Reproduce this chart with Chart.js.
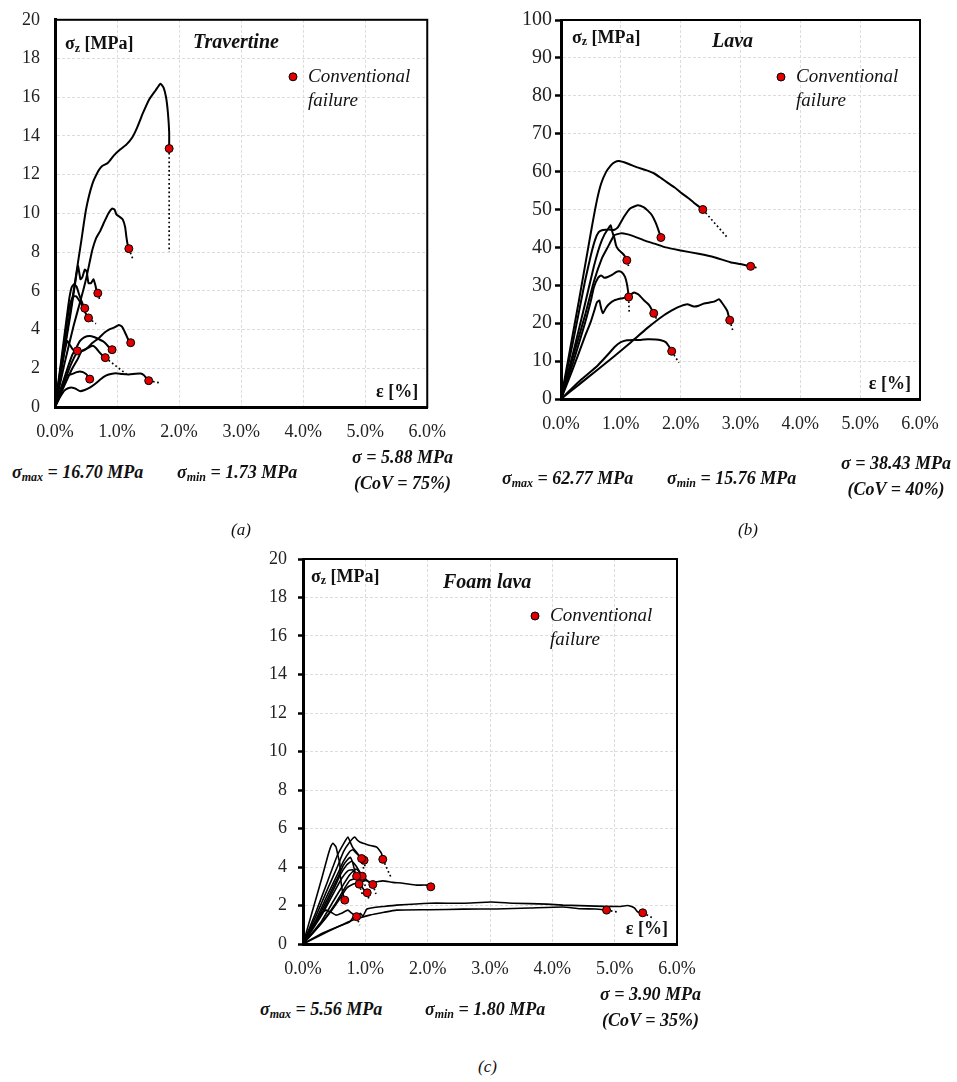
<!DOCTYPE html>
<html>
<head>
<meta charset="utf-8">
<script src="https://cdn.jsdelivr.net/npm/chart.js@4.4.0/dist/chart.umd.min.js"></script>
<style>
  body { margin: 0; background: #fff; width: 957px; height: 1082px; position: relative; overflow: hidden;
         font-family: "Liberation Serif", "Times New Roman", serif; color: #111; }
  canvas { position: absolute; }
  .stat { position: absolute; font-weight: bold; font-style: italic; font-size: 18px; line-height: 22px; white-space: nowrap; }
  .stat sub { font-size: 12px; vertical-align: -3px; line-height: 0; }
  .stack { text-align: center; line-height: 26px; }
  .cap { position: absolute; font-style: italic; font-size: 17px; line-height: 20px; }
</style>
</head>
<body>
<canvas id="travertine" width="460" height="450" style="left:0;top:0"></canvas>
<canvas id="lava" width="477" height="450" style="left:480px;top:0"></canvas>
<canvas id="foam" width="480" height="470" style="left:230px;top:520px"></canvas>

<div class="stat" style="left:12px;top:461px">σ<sub>max</sub> = 16.70 MPa</div>
<div class="stat" style="left:177px;top:461px">σ<sub>min</sub> = 1.73 MPa</div>
<div class="stat stack" style="left:340px;top:444px;width:125px">σ = 5.88 MPa<br>(CoV = 75%)</div>
<div class="cap" style="left:231px;top:520px">(a)</div>

<div class="stat" style="left:502px;top:467px">σ<sub>max</sub> = 62.77 MPa</div>
<div class="stat" style="left:667px;top:467px">σ<sub>min</sub> = 15.76 MPa</div>
<div class="stat stack" style="left:835px;top:450px;width:122px">σ = 38.43 MPa<br>(CoV = 40%)</div>
<div class="cap" style="left:738px;top:520px">(b)</div>

<div class="stat" style="left:260px;top:998px">σ<sub>max</sub> = 5.56 MPa</div>
<div class="stat" style="left:425px;top:998px">σ<sub>min</sub> = 1.80 MPa</div>
<div class="stat stack" style="left:588px;top:981px;width:125px">σ = 3.90 MPa<br>(CoV = 35%)</div>
<div class="cap" style="left:478px;top:1057px">(c)</div>

<script>
// strain axis range [%]
const STRAIN_MIN = 0;
const STRAIN_MAX = 6;

// Travertine: [strain %, stress MPa]; the last point of each curve is the conventional failure
const travertineCurves = [
  [[0,0],[0.15,3.0],[0.3,6.0],[0.42,8.5],[0.5,10.2],[0.6,11.5],[0.7,12.2],[0.76,12.45],[0.85,12.6],[0.95,13.0],[1.05,13.3],[1.15,13.55],[1.25,13.95],[1.32,14.4],[1.42,15.2],[1.52,15.9],[1.62,16.35],[1.70,16.7],[1.75,16.5],[1.79,16.0],[1.82,15.2],[1.84,14.2],[1.84,13.35]],
  [[0,0],[0.15,2.2],[0.3,4.2],[0.42,5.6],[0.5,6.6],[0.56,7.5],[0.6,8.1],[0.66,8.7],[0.73,9.1],[0.8,9.6],[0.86,10.0],[0.92,10.25],[0.96,10.2],[0.99,9.95],[1.03,9.85],[1.09,9.7],[1.13,9.3],[1.15,8.8],[1.17,8.4],[1.19,8.18]],
  [[0,0],[0.12,2.3],[0.25,4.8],[0.33,6.5],[0.37,7.3],[0.41,6.6],[0.44,6.7],[0.48,7.1],[0.51,7.0],[0.54,6.4],[0.58,6.4],[0.62,6.6],[0.65,6.3],[0.67,6.0],[0.69,5.88]],
  [[0,0],[0.1,2.4],[0.18,4.4],[0.23,5.6],[0.27,6.2],[0.31,6.35],[0.35,6.2],[0.39,5.8],[0.43,5.45],[0.46,5.2],[0.48,5.1]],
  [[0,0],[0.1,2.2],[0.18,4.1],[0.24,5.3],[0.29,5.7],[0.34,5.72],[0.4,5.45],[0.45,5.15],[0.5,4.8],[0.54,4.6]],
  [[0,0],[0.12,1.0],[0.22,1.9],[0.3,2.5],[0.37,2.85],[0.45,2.9],[0.52,3.05],[0.6,3.3],[0.71,3.57],[0.8,3.85],[0.87,4.0],[0.95,4.1],[1.03,4.23],[1.08,4.15],[1.14,3.77],[1.19,3.42],[1.22,3.32]],
  [[0,0],[0.15,1.5],[0.28,2.7],[0.35,3.1],[0.4,3.4],[0.47,3.6],[0.56,3.67],[0.64,3.6],[0.71,3.5],[0.77,3.4],[0.82,3.27],[0.88,3.05],[0.92,2.96]],
  [[0,0],[0.08,1.5],[0.15,2.8],[0.2,3.4],[0.24,3.2],[0.28,3.0],[0.32,2.9],[0.36,2.9]],
  [[0,0],[0.15,1.1],[0.28,2.0],[0.37,2.5],[0.43,2.9],[0.5,3.0],[0.56,3.1],[0.61,3.16],[0.66,3.05],[0.71,2.85],[0.77,2.65],[0.81,2.55]],
  [[0,0],[0.08,0.8],[0.15,1.4],[0.19,1.63],[0.27,1.7],[0.35,1.8],[0.4,1.84],[0.45,1.8],[0.5,1.7],[0.54,1.55],[0.56,1.44]],
  [[0,0],[0.08,0.5],[0.15,0.85],[0.21,0.97],[0.28,1.0],[0.33,0.95],[0.4,0.82],[0.48,0.88],[0.56,1.0],[0.65,1.2],[0.74,1.45],[0.82,1.62],[0.9,1.7],[0.98,1.74],[1.08,1.7],[1.19,1.68],[1.3,1.72],[1.38,1.73],[1.43,1.65],[1.47,1.5],[1.51,1.36]]
];
// end of the dotted post-failure branch (null = none)
const travertineTails = [[1.84,8.0],[1.26,7.6],[0.72,5.55],null,[0.66,4.3],null,null,null,[1.15,1.7],null,[1.7,1.24]];

const lavaCurves = [
  [[0,0],[0.3,26],[0.5,44],[0.6,52.4],[0.67,56.8],[0.75,59.8],[0.83,61.6],[0.9,62.5],[0.97,62.77],[1.1,62.2],[1.28,61.1],[1.42,60.4],[1.56,59.5],[1.68,58.2],[1.78,57.1],[1.9,55.8],[2.0,54.5],[2.12,53.1],[2.22,51.8],[2.37,50.0]],
  [[0,0],[0.2,15],[0.4,31],[0.5,38],[0.57,42],[0.63,44],[0.7,44.6],[0.8,44.7],[0.88,44.6],[0.95,45.3],[1.05,48],[1.15,50.2],[1.28,51.1],[1.38,50.6],[1.45,49.7],[1.52,48.5],[1.58,46.6],[1.63,44.5],[1.67,42.6]],
  [[0,0],[0.2,12],[0.4,25],[0.55,35],[0.65,40.5],[0.73,43.5],[0.8,45.2],[0.83,45.8],[0.86,44],[0.89,42.6],[0.92,40.5],[0.96,39.4],[1.03,38.4],[1.07,37.6],[1.1,36.6]],
  [[0,0],[0.2,11],[0.4,22],[0.55,31],[0.68,37],[0.78,40],[0.89,43.2],[1.0,43.7],[1.1,43.5],[1.22,42.9],[1.4,41.8],[1.56,41.0],[1.75,40.0],[2.0,39.2],[2.3,38.3],[2.56,37.4],[2.83,36.1],[3.0,35.6],[3.17,35.0]],
  [[0,0],[0.2,9.5],[0.4,20],[0.5,26],[0.55,29.5],[0.62,32],[0.67,32.6],[0.72,32],[0.78,32.2],[0.86,32.8],[0.92,33.5],[0.97,33.7],[1.02,33.4],[1.07,32.2],[1.1,30.5],[1.12,28.5],[1.13,26.9]],
  [[0,0],[0.2,8],[0.4,16.5],[0.5,20.5],[0.56,23.5],[0.6,25.5],[0.64,26],[0.67,24],[0.7,22.6],[0.75,24],[0.8,25],[0.89,26],[1.0,26.5],[1.1,26.8],[1.22,28.1],[1.3,27.5],[1.39,26],[1.46,25],[1.5,24.1],[1.55,22.6]],
  [[0,0],[0.3,3.8],[0.6,7.6],[0.89,11.3],[1.17,15],[1.44,18.7],[1.72,22.1],[1.9,23.8],[2.0,24.5],[2.11,25],[2.22,24.4],[2.3,24.6],[2.39,25.2],[2.5,25.5],[2.56,25.7],[2.64,26.3],[2.69,25.4],[2.75,24],[2.78,23.2],[2.82,20.8]],
  [[0,0],[0.33,5],[0.61,8.8],[0.8,12],[0.9,13.8],[1.0,15],[1.1,15.5],[1.2,15.6],[1.33,15.6],[1.45,15.76],[1.58,15.7],[1.67,15.5],[1.75,15],[1.8,14],[1.85,12.6]]
];
const lavaTails = [[2.78,42.6],null,[1.14,34.5],[3.31,34.5],[1.14,23],[1.6,21],[2.88,17.6],[1.97,9.6]];

const foamCurves = [
  [[0,0],[0.3,0.55],[0.6,0.95],[0.75,1.15],[0.82,1.45],[0.86,1.3],[0.92,1.6],[0.96,1.45],[1.02,1.8],[1.07,1.86],[1.3,1.95],[1.5,2.02],[2.03,2.12],[2.57,2.12],[3.02,2.18],[3.37,2.12],[3.91,2.07],[4.17,2.02],[4.7,1.97],[5.1,1.95],[5.2,2.0],[5.27,1.95],[5.32,1.86],[5.37,1.66],[5.45,1.62]],
  [[0,0],[0.4,0.65],[0.8,1.25],[1.07,1.5],[1.3,1.65],[1.5,1.76],[2.03,1.78],[2.57,1.81],[3.1,1.82],[3.64,1.87],[4.17,1.92],[4.44,1.83],[4.7,1.82],[4.87,1.76]],
  [[0,0],[0.15,0.9],[0.28,1.55],[0.37,1.76],[0.45,1.65],[0.53,1.5],[0.62,1.6],[0.72,1.76],[0.78,1.6],[0.86,1.42]],
  [[0,0],[0.15,1.7],[0.3,3.4],[0.4,4.6],[0.45,5.1],[0.48,5.23],[0.53,5.04],[0.56,4.6],[0.59,4.2],[0.6,3.5],[0.62,3.0],[0.64,2.6],[0.67,2.28]],
  [[0,0],[0.2,1.6],[0.4,3.3],[0.55,4.6],[0.65,5.2],[0.72,5.55],[0.77,5.2],[0.8,5.0],[0.85,4.8],[0.9,4.6],[0.94,4.44]],
  [[0,0],[0.2,1.4],[0.4,2.9],[0.55,4.0],[0.65,4.8],[0.75,5.3],[0.83,5.56],[0.87,5.4],[0.91,5.3],[1.0,5.2],[1.1,5.1],[1.18,5.04],[1.22,4.9],[1.26,4.7],[1.28,4.4]],
  [[0,0],[0.2,1.2],[0.4,2.6],[0.55,3.6],[0.65,4.3],[0.75,4.8],[0.8,4.9],[0.86,4.7],[0.92,4.5],[0.98,4.35]],
  [[0,0],[0.2,1.1],[0.4,2.4],[0.55,3.4],[0.65,4.1],[0.72,4.4],[0.76,4.5],[0.8,4.2],[0.83,3.8],[0.86,3.52]],
  [[0,0],[0.3,1.6],[0.5,2.9],[0.6,3.6],[0.7,4.1],[0.78,4.3],[0.84,4.1],[0.9,3.8],[0.95,3.52]],
  [[0,0],[0.3,1.5],[0.5,2.7],[0.62,3.4],[0.72,3.8],[0.8,3.85],[0.85,3.5],[0.9,3.11]],
  [[0,0],[0.3,1.2],[0.5,2.3],[0.65,3.1],[0.75,3.6],[0.85,3.9],[0.92,3.7],[1.0,3.4],[1.06,3.2],[1.12,3.09]],
  [[0,0],[0.3,1.1],[0.5,2.0],[0.65,2.8],[0.75,3.3],[0.85,3.4],[0.92,3.1],[0.98,2.8],[1.03,2.66]],
  [[0,0],[0.25,0.9],[0.45,1.7],[0.6,2.4],[0.7,2.9],[0.8,3.1],[0.9,3.2],[1.0,3.3],[1.1,3.2],[1.18,3.23],[1.28,3.28],[1.44,3.2],[1.6,3.16],[1.82,3.06],[1.98,3.06],[2.05,2.97]]
];
const foamTails = [[5.61,1.35],[5.05,1.66],[0.91,0.98],null,[0.98,3.8],[1.42,3.4],[1.0,3.9],[0.9,3.0],[1.0,3.0],[0.95,2.6],[1.17,2.6],[1.06,2.3],[2.11,2.85]];

const FONT = "Liberation Serif";
const FAIL_RED = "#e00000";

const pt = ([x, y]) => ({ x, y });

function buildDatasets(curves, tails, lineWidth) {
  const sets = [];
  curves.forEach((c, i) => {
    const last = c[c.length - 1];
    sets.push({
      data: c.map(pt), showLine: true, borderColor: "#000", borderWidth: lineWidth,
      pointRadius: 0, tension: 0.15, order: 2,
    });
    if (tails[i]) {
      sets.push({
        data: [pt(last), pt(tails[i])], showLine: true, borderColor: "#000", borderWidth: 1.7,
        borderDash: [1.7, 2.6], pointRadius: 0, order: 2,
      });
    }
    sets.push({
      data: [pt(last)], showLine: false, pointRadius: 4, pointBackgroundColor: FAIL_RED,
      pointBorderColor: "#000", pointBorderWidth: 1, order: 1,
    });
  });
  return sets;
}

// frame, axis captions, title and the failure-marker key inside the plot
const panelText = {
  id: "panelText",
  afterDraw(chart, args, o) {
    const { ctx, chartArea: a } = chart;
    ctx.save();
    ctx.strokeStyle = "#000";
    ctx.lineWidth = 2;
    ctx.strokeRect(a.left, a.top, a.right - a.left, a.bottom - a.top);

    ctx.fillStyle = "#111";
    ctx.textBaseline = "middle";
    // stress caption
    ctx.textAlign = "left";
    ctx.font = `bold 18px "${FONT}"`;
    let x = a.left + o.capX, y = a.top + o.capY;
    ctx.fillText("σ", x, y);
    x += ctx.measureText("σ").width;
    ctx.font = `bold 12px "${FONT}"`;
    ctx.fillText("z", x, y + 4);
    x += ctx.measureText("z").width;
    ctx.font = `bold 18px "${FONT}"`;
    ctx.fillText(" [MPa]", x, y);
    // strain caption
    ctx.textAlign = "right";
    ctx.fillText("ε [%]", a.right - 9, a.bottom - 15);
    // title
    ctx.textAlign = "left";
    ctx.font = `bold italic 20px "${FONT}"`;
    ctx.fillText(o.title, a.left + o.titleX, a.top + o.titleY);
    // key
    const kx = a.left + o.keyX, ky = a.top + 57;
    ctx.beginPath();
    ctx.arc(kx, ky, 4, 0, Math.PI * 2);
    ctx.fillStyle = FAIL_RED;
    ctx.fill();
    ctx.lineWidth = 1;
    ctx.stroke();
    ctx.fillStyle = "#111";
    ctx.font = `italic 19px "${FONT}"`;
    ctx.fillText("Conventional", kx + 15, ky);
    ctx.fillText("failure", kx + 15, ky + 24);
    ctx.restore();
  },
};

function makeChart(id, cfg) {
  const border = { display: true, color: "#000", width: 3, dash: [3, 2] };
  return new Chart(document.getElementById(id), {
    type: "scatter",
    data: { datasets: buildDatasets(cfg.curves, cfg.tails, cfg.lineWidth) },
    options: {
      responsive: false,
      animation: false,
      layout: { padding: { left: 0, top: cfg.area.top, right: cfg.area.right, bottom: 0 } },
      plugins: { legend: { display: false }, tooltip: { enabled: false }, panelText: cfg.text },
      scales: {
        x: {
          type: "linear", min: STRAIN_MIN, max: STRAIN_MAX,
          afterFit: (s) => { s.height = cfg.area.xHeight; },
          ticks: { stepSize: 1, padding: cfg.xPad, color: "#222", font: { family: FONT, size: 18 },
                   callback: (v) => v.toFixed(1) + "%" },
          grid: { color: "#dcdcdc", lineWidth: 1, drawTicks: false },
          border,
        },
        y: {
          type: "linear", min: 0, max: cfg.yMax,
          afterFit: (s) => { s.width = cfg.area.left; },
          ticks: { stepSize: cfg.yStep, padding: cfg.yPad, color: "#222", font: { family: FONT, size: cfg.yFont } },
          grid: { color: "#dcdcdc", lineWidth: 1, tickLength: cfg.tickLen, tickColor: cfg.tickColor, tickWidth: 2.5 },
          border,
        },
      },
    },
    plugins: [panelText],
  });
}

makeChart("travertine", {
  curves: travertineCurves, tails: travertineTails, lineWidth: 2,
  area: { left: 55, top: 15, right: 27, xHeight: 43 },
  yMax: 20, yStep: 2, yFont: 18, yPad: 9, xPad: 14, tickLen: 6, tickColor: "rgba(0,0,0,0)",
  text: { capX: 10, capY: 25, title: "Travertine", titleX: 138, titleY: 23, keyX: 238 },
});

makeChart("lava", {
  curves: lavaCurves, tails: lavaTails, lineWidth: 2,
  area: { left: 81, top: 20, right: 37, xHeight: 51 },
  yMax: 100, yStep: 10, yFont: 20, yPad: 3, xPad: 14, tickLen: 6, tickColor: "#000",
  text: { capX: 11, capY: 18, title: "Lava", titleX: 151, titleY: 22, keyX: 220 },
});

makeChart("foam", {
  curves: foamCurves, tails: foamTails, lineWidth: 1.6,
  area: { left: 73, top: 39, right: 33, xHeight: 46 },
  yMax: 20, yStep: 2, yFont: 18, yPad: 11, xPad: 14, tickLen: 5, tickColor: "#000",
  text: { capX: 8, capY: 18, title: "Foam lava", titleX: 140, titleY: 24, keyX: 232 },
});
</script>
</body>
</html>
